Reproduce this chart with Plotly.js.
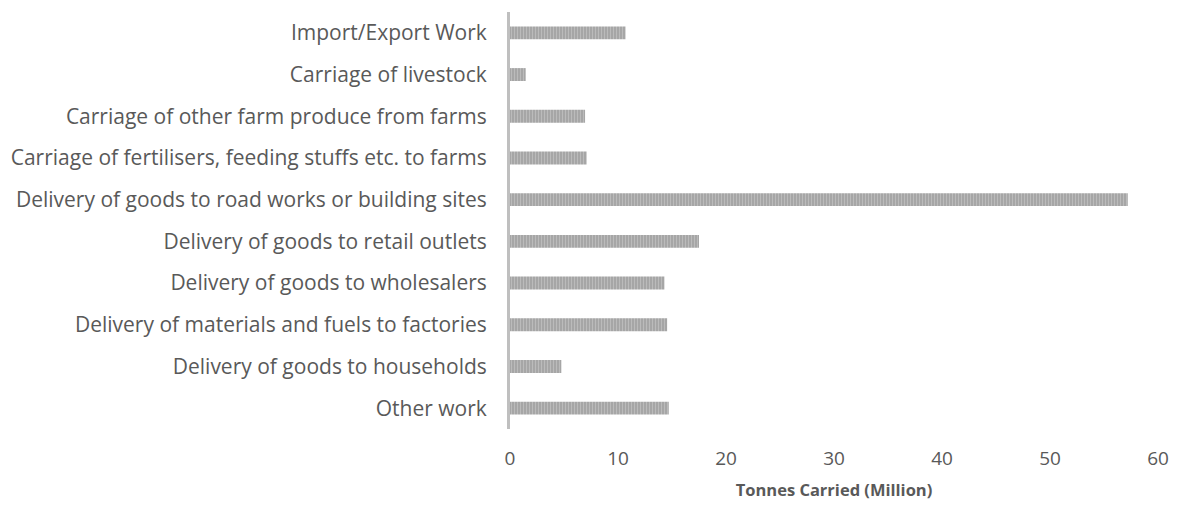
<!DOCTYPE html>
<html>
<head>
<meta charset="utf-8">
<script src="https://cdn.plot.ly/plotly-3.0.1.min.js"></script>
<style>html,body{margin:0;padding:0;background:#fff;}#chart{width:1178px;height:509px;}</style>
</head>
<body>
<div id="chart"></div>
<script>
const categories = [
  "Import/Export Work",
  "Carriage of livestock",
  "Carriage of other farm produce from farms",
  "Carriage of fertilisers, feeding stuffs etc. to farms",
  "Delivery of goods to road works or building sites",
  "Delivery of goods to retail outlets",
  "Delivery of goods to wholesalers",
  "Delivery of materials and fuels to factories",
  "Delivery of goods to households",
  "Other work"
];
const tonnesCarried = [10.7, 1.45, 6.95, 7.1, 57.2, 17.5, 14.3, 14.55, 4.75, 14.7];
const xTickValues = [0, 10, 20, 30, 40, 50, 60];

const trace = {
  type: 'bar',
  orientation: 'h',
  y: categories,
  x: tonnesCarried,
  marker: {
    color: '#a6a6a6',
    line: {width: 0},
    pattern: {shape: '|', fgcolor: '#d0d0d0', fillmode: 'overlay', size: 3, solidity: 0.35}
  },
  hoverinfo: 'x+y'
};

const layout = {
  width: 1178, height: 509,
  margin: {l: 510, r: 20, t: 12, b: 80},
  paper_bgcolor: '#ffffff', plot_bgcolor: '#ffffff',
  showlegend: false,
  bargap: 0.69,
  font: {family: '"Open Sans", sans-serif', color: '#595959', size: 17},
  xaxis: {
    range: [0, 60], tickvals: xTickValues, ticktext: xTickValues.map(String),
    showgrid: false, zeroline: false, showline: false, ticks: '',
    ticklabelstandoff: 16,
    tickfont: {size: 19, color: '#595959'},
    title: {text: '<b>Tonnes Carried (Million)</b>', font: {size: 16.5, color: '#595959'}, standoff: 14}
  },
  yaxis: {
    type: 'category', autorange: 'reversed',
    showgrid: false, zeroline: false, showline: true, linecolor: '#bfbfbf', linewidth: 3,
    ticks: '', ticklabelstandoff: 16,
    tickfont: {size: 21, color: '#595959'}
  }
};

Plotly.newPlot('chart', [trace], layout, {displayModeBar: false, staticPlot: true});
</script>
</body>
</html>
